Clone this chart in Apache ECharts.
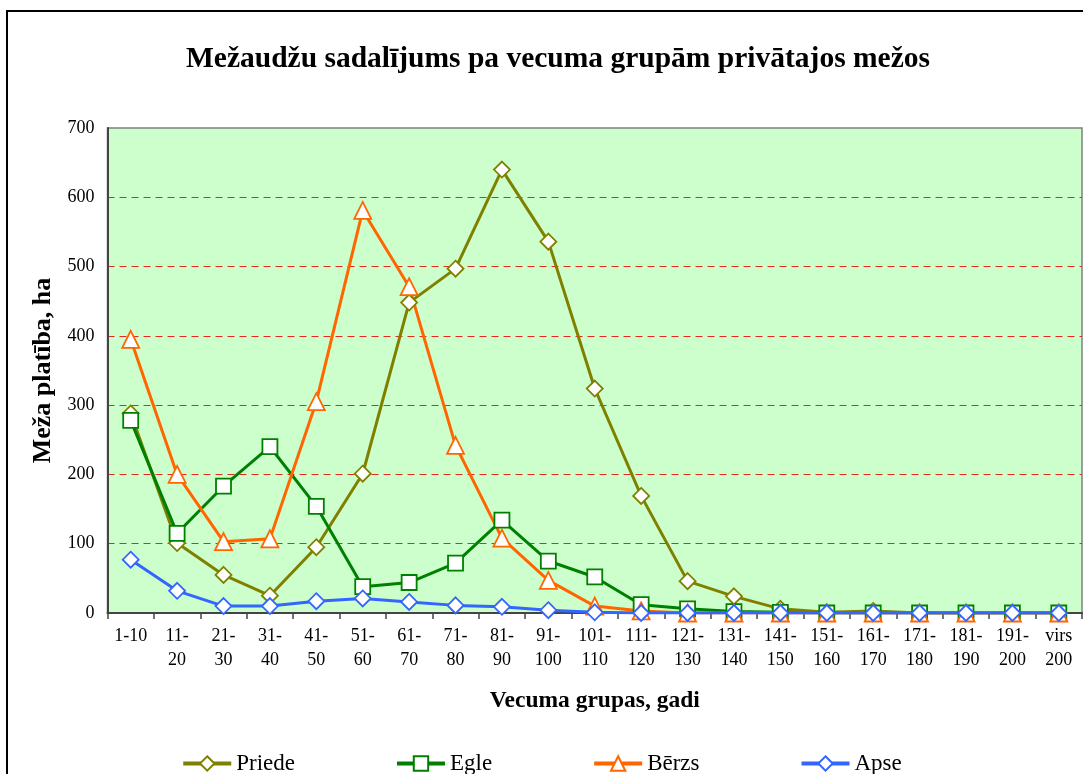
<!DOCTYPE html>
<html>
<head>
<meta charset="utf-8">
<script src="https://cdn.jsdelivr.net/npm/echarts@6/dist/echarts.min.js"></script>
<style>
html,body{margin:0;padding:0;background:#fff;}
#chart{width:1083px;height:774px;}
</style>
</head>
<body>
<div id="chart"></div>
<script>
// vecuma grupas
var categories = ['1-10','11-\n20','21-\n30','31-\n40','41-\n50','51-\n60','61-\n70','71-\n80','81-\n90','91-\n100',
	'101-\n110','111-\n120','121-\n130','131-\n140','141-\n150','151-\n160','161-\n170','171-\n180','181-\n190','191-\n200','virs\n200'];
var priede = [288,101,55,25,95,201,448,497,640,536,324,169,46,24,6,1,3,0,0,0,0];
var egle   = [278,115,183,240,154,38,44,72,134,75,52,12,6,2,1,0,0,0,0,0,0];
var berzs  = [395,200,103,107,305,581,471,242,108,47,10,3,0,0,0,0,0,0,0,0,0];
var apse   = [77,32,10,10,17,21,16,11,9,4,1,0,0,0,0,0,0,0,0,0,0];
var yTicks = {min:0, max:700, interval:100};

var serif = '"Liberation Serif","Times New Roman",serif';

function lineSeries(name, data, color, symbol, size){
	return {
		name: name,
		type: 'line',
		data: data,
		symbol: symbol,
		symbolSize: size,
		lineStyle: {color: color, width: 3},
		itemStyle: {color: '#fff', borderColor: color, borderWidth: 1.8},
		emphasis: {disabled: true}
	};
}

var chart = echarts.init(document.getElementById('chart'));
chart.setOption({
	animation: false,
	backgroundColor: '#fff',
	graphic: [{
		type: 'rect',
		shape: {x: 7, y: 11, width: 1100, height: 800},
		style: {fill: 'none', stroke: '#000', lineWidth: 2},
		z: -10
	}],
	title: {
		text: 'Mežaudžu sadalījums pa vecuma grupām privātajos mežos',
		left: 553,
		top: 39,
		textAlign: 'center',
		textStyle: {fontFamily: serif, fontWeight: 'bold', fontSize: 29.5, color: '#000'}
	},
	legend: {
		left: 'center',
		top: 747,
		itemWidth: 48,
		itemHeight: 18,
		itemGap: 100,
		lineStyle: {width: 4},
		textStyle: {fontFamily: serif, fontSize: 23, color: '#000'},
		data: ['Priede','Egle','Bērzs','Apse']
	},
	grid: {
		left: 107.5, right: 1, top: 128, bottom: 161,
		show: true,
		backgroundColor: '#ccffcc',
		borderColor: '#808080',
		borderWidth: 1.5
	},
	xAxis: {
		type: 'category',
		data: categories,
		boundaryGap: true,
		name: 'Vecuma grupas, gadi',
		nameLocation: 'middle',
		nameGap: 76,
		nameTextStyle: {fontFamily: serif, fontWeight: 'bold', fontSize: 23.5, color: '#000'},
		axisLine: {lineStyle: {color: '#444', width: 2}},
		axisTick: {show: true, length: 6, lineStyle: {color: '#444', width: 1.5}},
		axisLabel: {fontFamily: serif, fontSize: 18, color: '#000', lineHeight: 24, margin: 11, interval: 0},
		splitLine: {show: false}
	},
	yAxis: {
		type: 'value',
		min: yTicks.min,
		max: yTicks.max,
		interval: yTicks.interval,
		name: 'Meža platība, ha',
		nameLocation: 'middle',
		nameGap: 48,
		nameTextStyle: {fontFamily: serif, fontWeight: 'bold', fontSize: 26, color: '#000'},
		axisLine: {show: true, lineStyle: {color: '#444', width: 2}},
		axisTick: {show: false},
		axisLabel: {fontFamily: serif, fontSize: 18, color: '#000', margin: 13},
		splitLine: {show: true, showMinLine: false, showMaxLine: false, lineStyle: {color: '#e8281e', width: 1, type: [7,5]}}
	},
	series: [
		lineSeries('Priede', priede, '#808000', 'diamond', 16),
		lineSeries('Egle', egle, '#008000', 'rect', 15),
		lineSeries('Bērzs', berzs, '#ff6600', 'triangle', 17),
		lineSeries('Apse', apse, '#3366ff', 'diamond', 16)
	]
});
</script>
</body>
</html>
